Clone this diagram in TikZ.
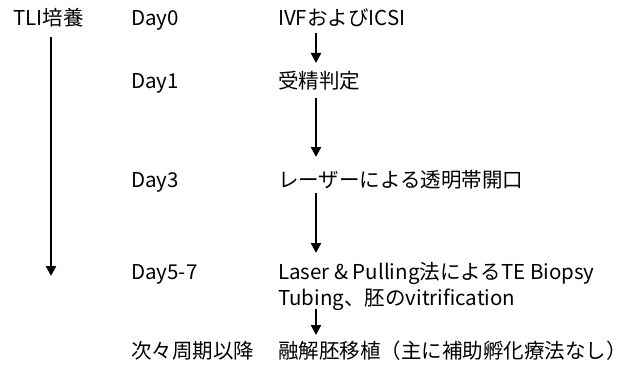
\documentclass[tikz,border=0pt]{standalone}
\usepackage{fontspec}
\setmainfont{Noto Sans CJK JP}
\usetikzlibrary{arrows.meta}
\begin{document}
\begin{tikzpicture}[x=1pt,y=-1pt,
  lbl/.style={anchor=base west,inner sep=0pt,font=\fontsize{20.5}{24}\selectfont},
  arr/.style={line width=2.2pt,-{Triangle[width=10pt,length=10pt]}}]
\useasboundingbox (0,0) rectangle (628,369);
\node[lbl] (tli) at (13,26) {TLI培養};
\coordinate (tlis) at (51,37);
\coordinate (tlie) at (51,276);
\draw[arr] (tlis) -- (tlie);
\node[lbl] (d0) at (131,26) {Day0};
\node[lbl] (d1) at (131,88) {Day1};
\node[lbl] (d3) at (131,187) {Day3};
\node[lbl] (d5) at (131,279) {Day5-7};
\node[lbl] (dn) at (131,358) {次々周期以降};
\node[lbl] (s0) at (278,26) {IVFおよびICSI};
\node[lbl] (s1) at (278,88) {受精判定};
\node[lbl] (s3) at (278,187) {レーザーによる透明帯開口};
\node[lbl] (s5) at (278,279) {Laser \& Pulling法によるTE Biopsy};
\node[lbl] (s5b) at (278,305) {Tubing、胚のvitrification};
\node[lbl] (sn) at (278,358) {融解胚移植（主に補助孵化療法なし）};
\coordinate (a0) at (316,33); \coordinate (b0) at (316,63);
\coordinate (a1) at (316,98); \coordinate (b1) at (316,157);
\coordinate (a3) at (316,193); \coordinate (b3) at (316,253);
\coordinate (a5) at (316,309); \coordinate (b5) at (316,335);
\draw[arr] (a0) -- (b0);
\draw[arr] (a1) -- (b1);
\draw[arr] (a3) -- (b3);
\draw[arr] (a5) -- (b5);
\end{tikzpicture}
\end{document}
